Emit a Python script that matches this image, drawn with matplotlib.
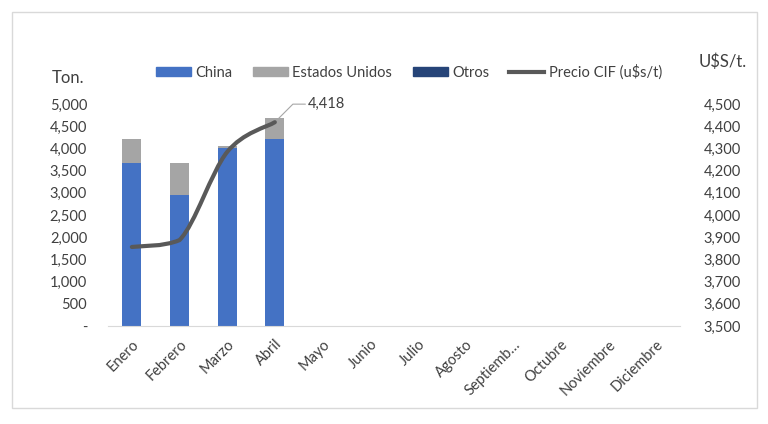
import numpy as np
import matplotlib
matplotlib.use('Agg')
import matplotlib.pyplot as plt
from matplotlib.path import Path
from matplotlib.patches import PathPatch, Rectangle, Patch
from matplotlib.lines import Line2D
from matplotlib.ticker import FuncFormatter

plt.rcParams['font.family'] = ['Lato', 'DejaVu Sans']

meses = ['Enero', 'Febrero', 'Marzo', 'Abril', 'Mayo', 'Junio', 'Julio', 'Agosto',
         'Septiemb\u2026', 'Octubre', 'Noviembre', 'Diciembre']
china = [3670, 2950, 4010, 4210]
eeuu = [540, 720, 40, 470]
otros = [0, 0, 0, 0]
precio = [3856, 3887, 4284, 4418]

c_china = '#4472C4'
c_us = '#A5A5A5'
c_otros = '#264478'
c_line = '#595959'
c_txt = '#404040'
fs = 10.5

fig = plt.figure(figsize=(7.68, 4.24), dpi=100)
fig.patches.append(Rectangle((12/768, 1-408/424), 745/768, 396/424, transform=fig.transFigure,
                             fill=False, edgecolor='#D9D9D9', lw=1))
ax = fig.add_axes([108/768, 1-326/424, 572/768, 222/424])
ax2 = ax.twinx()

x = np.arange(len(meses))
n = len(china)
w = 0.4
ax.bar(x[:n], china, w, color=c_china, zorder=2)
ax.bar(x[:n], eeuu, w, bottom=china, color=c_us, zorder=2)
ax.bar(x[:n], otros, w, bottom=np.add(china, eeuu), color=c_otros, zorder=2)

# smoothed line drawn as bezier segments, control points kept inside each segment's range
px = list(x[:n].astype(float))
py = list(precio)
verts = [(px[0], py[0])]
codes = [Path.MOVETO]
for i in range(n - 1):
    p0 = (px[max(i-1, 0)], py[max(i-1, 0)])
    p1 = (px[i], py[i])
    p2 = (px[i+1], py[i+1])
    p3 = (px[min(i+2, n-1)], py[min(i+2, n-1)])
    lo, hi = min(p1[1], p2[1]), max(p1[1], p2[1])
    c1 = (p1[0] + (p2[0]-p0[0])/6, np.clip(p1[1] + (p2[1]-p0[1])/6, lo, hi))
    c2 = (p2[0] - (p3[0]-p1[0])/6, np.clip(p2[1] - (p3[1]-p1[1])/6, lo, hi))
    verts += [c1, c2, p2]
    codes += [Path.CURVE4] * 3
ax2.add_patch(PathPatch(Path(verts, codes), facecolor='none', edgecolor=c_line, lw=3,
                        capstyle='round', zorder=3))

ax.set_xlim(-0.5, len(meses) - 0.5)
ax.set_ylim(0, 5000)
ax.set_yticks(np.arange(0, 5001, 500))
ax2.set_ylim(3500, 4500)
ax2.set_yticks(np.arange(3500, 4501, 100))

fmt = FuncFormatter(lambda v, p: '-' if v == 0 else '{:,.0f}'.format(v))
ax.yaxis.set_major_formatter(fmt)
ax2.yaxis.set_major_formatter(FuncFormatter(lambda v, p: '{:,.0f}'.format(v)))

for a in (ax, ax2):
    for s in a.spines.values():
        s.set_visible(False)
    a.tick_params(length=0, labelsize=fs, labelcolor=c_txt)
ax.spines['bottom'].set_visible(True)
ax.spines['bottom'].set_color('#D9D9D9')
ax.tick_params(axis='y', pad=15)
ax2.tick_params(axis='y', pad=17)

ax.set_xticks(x)
ax.set_xticklabels(meses, rotation=45, ha='right', rotation_mode='anchor')
ax.tick_params(axis='x', pad=8)

fig.text(52/768, 1-78/424, 'Ton.', fontsize=12, color=c_txt, va='center')
fig.text(699/768, 1-62/424, 'U$S/t.', fontsize=12, color=c_txt, va='center')

ax2.annotate('{:,.0f}'.format(precio[-1]), xy=(x[n-1], precio[-1]), xytext=(24, 13),
             textcoords='offset points', fontsize=fs, color=c_txt, va='center', ha='left',
             arrowprops=dict(arrowstyle='-', color='#A6A6A6', lw=0.8, shrinkA=0, shrinkB=4,
                             connectionstyle='angle,angleA=0,angleB=45,rad=0'))

handles = [Patch(color=c_china), Patch(color=c_us), Patch(color=c_otros),
           Line2D([], [], color=c_line, lw=3)]
labels = ['China', 'Estados Unidos', 'Otros', 'Precio CIF (u$s/t)']
fig.legend(handles, labels, loc='center', bbox_to_anchor=(409/768, 1-72/424), ncol=4,
           frameon=False, fontsize=fs, handlelength=2.4, handleheight=0.55,
           columnspacing=1.4, handletextpad=0.3, labelcolor=c_txt)

fig.savefig('out.png', dpi=100)
